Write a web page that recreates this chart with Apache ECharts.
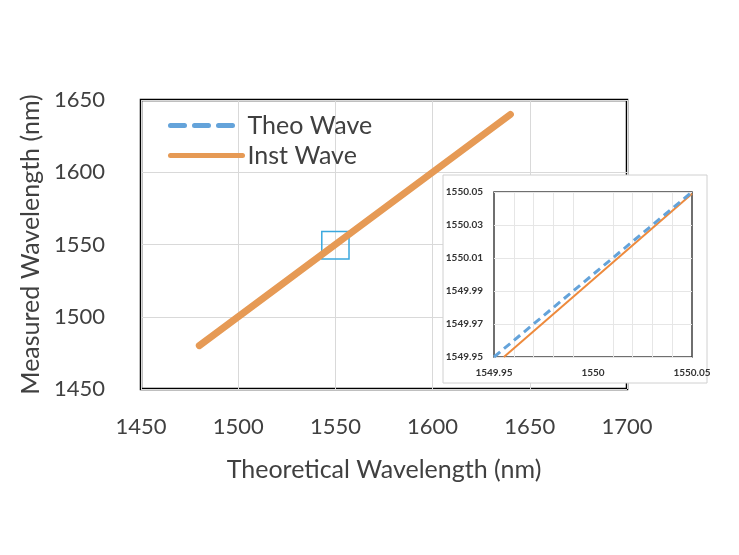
<!DOCTYPE html>
<html>
<head>
<meta charset="utf-8">
<script src="https://cdn.jsdelivr.net/npm/echarts@6/dist/echarts.min.js"></script>
<style>
  html, body { margin: 0; padding: 0; background: #fff; }
  #chart { width: 739px; height: 555px; }
</style>
</head>
<body>
<div id="chart"></div>
<script>
// main chart data (nm)
var theoX = [1480, 1520, 1560, 1600, 1640];
var theoY = [1480, 1520, 1560, 1600, 1640];
var instX = [1480, 1520, 1560, 1600, 1640];
var instY = [1480, 1520, 1560, 1600, 1640];
// zoom box drawn on main chart: [xmin, xmax, ymin, ymax]
var zoomBox = [1543, 1557, 1540, 1559];

// inset data (nm)
var insetBase = 1549.95;
var insetTheoX = [1549.95, 1550.05];
var insetTheoY = [1549.95, 1550.05];
var insetInstX = [1549.955, 1550.05];
var insetInstY = [1549.95, 1550.049];

var mainTicks = { min: 1450, max: 1700, interval: 50 };
var mainYTicks = { min: 1450, max: 1650, interval: 50 };

var txt = '#404040';
var font = 'Lato';
var blue = '#64A3DA';
var orange = '#E69A55';

function pairs(xs, ys) {
  return xs.map(function (x, i) { return [x, ys[i]]; });
}
// inset axes are drawn relative to insetBase so ticks start exactly at it
function rel(xs, ys) {
  return xs.map(function (x, i) { return [x - insetBase, ys[i] - insetBase]; });
}
function insetFmt(v) {
  return parseFloat((insetBase + v).toFixed(2)).toString();
}
function insetFmtY(v) {
  return (insetBase + v).toFixed(2);
}
function plain(v) { return String(v); }

var chart = echarts.init(document.getElementById('chart'));

var option = {
  backgroundColor: '#fff',
  animation: false,
  textStyle: { fontFamily: font },
  grid: [
    { left: 141, right: 112, top: 100, bottom: 166, show: true,
      borderColor: '#000', borderWidth: 2.5, backgroundColor: '#fff' },
    { left: 494, right: 47, top: 192, bottom: 198, show: true,
      borderColor: '#404040', borderWidth: 1.5, z: 10 }
  ],
  legend: {
    data: [
      { name: 'Theo Wave', itemStyle: { opacity: 0 },
        lineStyle: { width: 5, type: [14, 10], cap: 'round', color: blue } },
      { name: 'Inst Wave', itemStyle: { opacity: 0 },
        lineStyle: { width: 5, cap: 'round', color: orange } }
    ],
    orient: 'vertical',
    left: 163, top: 108,
    itemWidth: 72, itemHeight: 14, itemGap: 5,
    textStyle: { fontSize: 25, color: txt, fontFamily: font },
    z: 6
  },
  graphic: [{
    type: 'rect',
    shape: { x: 443, y: 175, width: 264, height: 208 },
    style: { fill: '#fff', stroke: '#D0D0D0', lineWidth: 1 },
    z: 5
  }],
  xAxis: [
    { type: 'value', gridIndex: 0,
      min: mainTicks.min, max: mainTicks.max, interval: mainTicks.interval,
      name: 'Theoretical Wavelength (nm)', nameLocation: 'middle', nameGap: 68,
      nameTextStyle: { fontSize: 25, color: txt, fontFamily: font },
      axisLine: { show: false }, axisTick: { show: false },
      axisLabel: { fontSize: 22, color: txt, margin: 27, fontFamily: font, formatter: plain },
      splitLine: { show: true, lineStyle: { color: '#D9D9D9', width: 1 } } },
    { type: 'value', gridIndex: 1,
      min: 0, max: 0.1, interval: 0.05, z: 10,
      axisLine: { show: false }, axisTick: { show: false },
      axisLabel: { fontSize: 10, fontWeight: 'bold', color: '#333', margin: 11, fontFamily: font,
        formatter: insetFmt },
      splitLine: { show: false },
      minorTick: { show: false, splitNumber: 5 },
      minorSplitLine: { show: true, lineStyle: { color: '#E6E6E6', width: 1 } } }
  ],
  yAxis: [
    { type: 'value', gridIndex: 0,
      min: mainYTicks.min, max: mainYTicks.max, interval: mainYTicks.interval,
      name: 'Measured Wavelength (nm)', nameLocation: 'middle', nameGap: 92,
      nameRotate: 90,
      nameTextStyle: { fontSize: 25, color: txt, fontFamily: font },
      axisLine: { show: false }, axisTick: { show: false },
      axisLabel: { fontSize: 22, color: txt, margin: 36, fontFamily: font, formatter: plain },
      splitLine: { show: true, lineStyle: { color: '#D9D9D9', width: 1 } } },
    { type: 'value', gridIndex: 1,
      min: 0, max: 0.1, interval: 0.02, z: 10,
      axisLine: { show: false }, axisTick: { show: false },
      axisLabel: { fontSize: 10, fontWeight: 'bold', color: '#333', margin: 11, fontFamily: font,
        formatter: insetFmtY },
      splitLine: { show: true, lineStyle: { color: '#E6E6E6', width: 1 } } }
  ],
  series: [
    { name: 'Theo Wave', type: 'line', xAxisIndex: 0, yAxisIndex: 0,
      data: pairs(theoX, theoY), symbol: 'none', z: 2,
      lineStyle: { color: blue, width: 5, type: [6, 5], cap: 'round' },
      itemStyle: { color: blue } },
    { name: 'Inst Wave', type: 'line', xAxisIndex: 0, yAxisIndex: 0,
      data: pairs(instX, instY), symbol: 'none', z: 3,
      lineStyle: { color: orange, width: 7, cap: 'round' },
      itemStyle: { color: orange } },
    { name: 'zoom', type: 'line', xAxisIndex: 0, yAxisIndex: 0,
      data: [], z: 4,
      markArea: {
        silent: true,
        itemStyle: { color: 'rgba(0,0,0,0)', borderColor: '#3AA8DE', borderWidth: 1.5 },
        data: [[{ coord: [zoomBox[0], zoomBox[2]] }, { coord: [zoomBox[1], zoomBox[3]] }]]
      } },
    { name: 'Theo Wave', type: 'line', xAxisIndex: 1, yAxisIndex: 1,
      data: rel(insetTheoX, insetTheoY), symbol: 'none', z: 12,
      lineStyle: { color: blue, width: 3, type: [8, 5] } },
    { name: 'Inst Wave', type: 'line', xAxisIndex: 1, yAxisIndex: 1,
      data: rel(insetInstX, insetInstY), symbol: 'none', z: 11, clip: true,
      lineStyle: { color: '#EE8A3C', width: 2 } }
  ]
};

chart.setOption(option);
</script>
</body>
</html>
